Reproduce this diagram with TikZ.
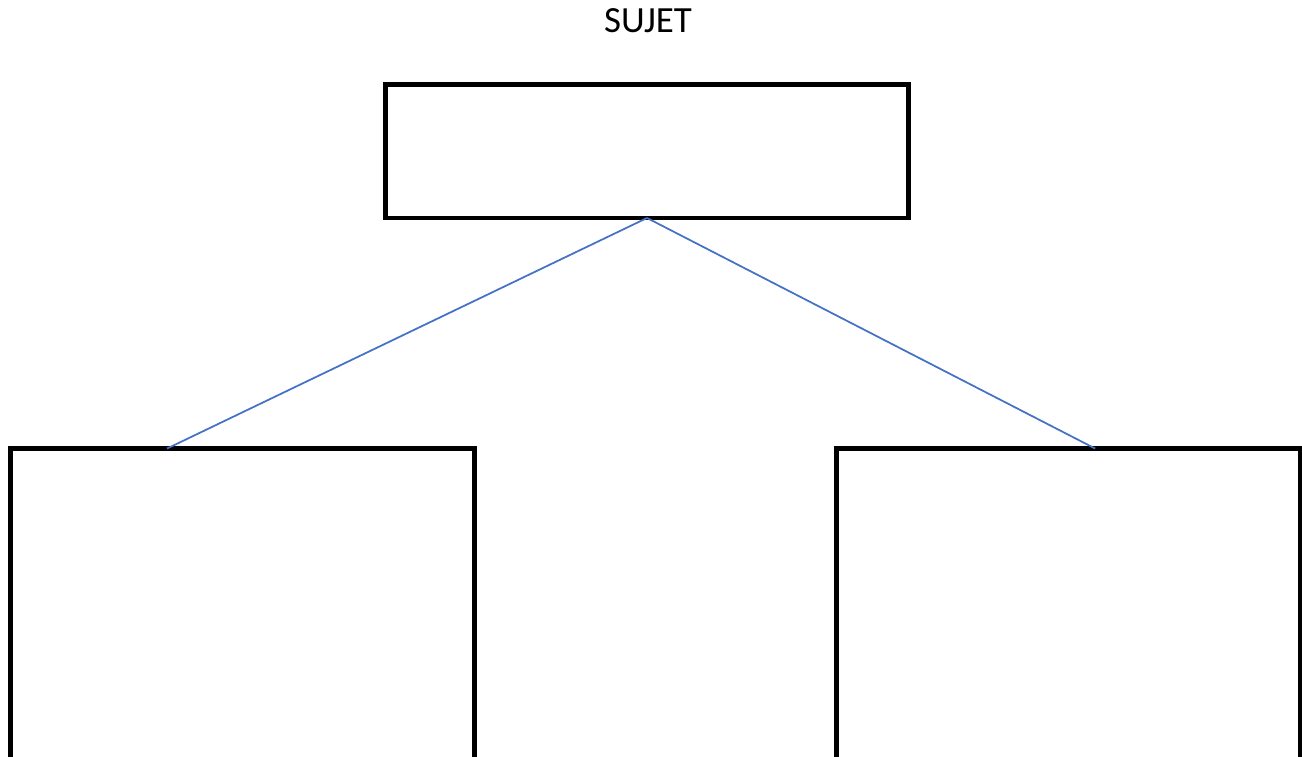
\documentclass[tikz,border=0pt]{standalone}
\usepackage{fontspec}
\setmainfont{Carlito}
\usetikzlibrary{calc}

\tikzset{
	boite/.style={draw, line width=2.8pt, rectangle, inner sep=0pt, outer sep=0pt},
	lien/.style={draw=lienbleu, line width=1pt}
}
\definecolor{lienbleu}{HTML}{4472C4}

\begin{document}
\begin{tikzpicture}[x=0.02cm, y=-0.02cm]
	\useasboundingbox (0, 0) rectangle (1302, 757);
	\node (titre) at (648, 21) {\fontsize{21}{24}\selectfont SUJET};

	\node[boite, minimum width=10.45cm, minimum height=2.67cm] (sujet) at (647, 151.25) {};
	\node[boite, minimum width=9.29cm, minimum height=6.21cm] (gauche) at (242.75, 603.75) {};
	\node[boite, minimum width=9.27cm, minimum height=6.21cm] (droite) at (1068.25, 603.75) {};

	\draw[lien] (sujet.south) -- ($(gauche.north west)!0.337!(gauche.north east)$);
	\draw[lien] (sujet.south) -- ($(droite.north west)!0.558!(droite.north east)$);
\end{tikzpicture}
\end{document}
